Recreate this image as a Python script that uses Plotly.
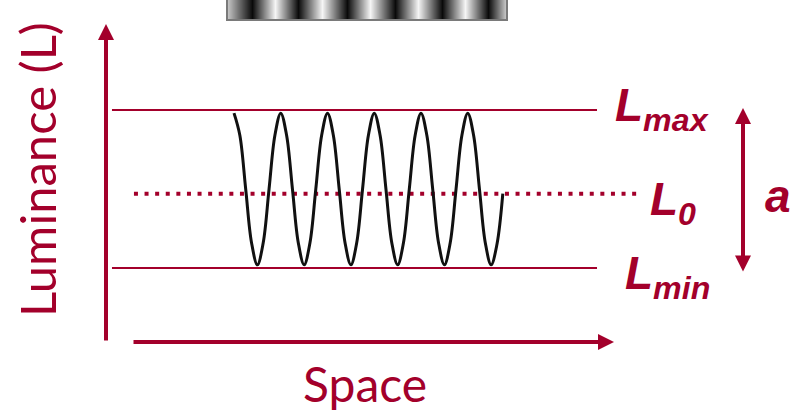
import plotly.graph_objects as go

# --- data (space in grating periods, luminance in arbitrary units) ---
L_MAX = 100
L_MIN = 0
L_ZERO = 47

# profile read at every eighth of a period
wave_space = [0, 0.125, 0.25, 0.375, 0.5, 0.625, 0.75, 0.875,
              1, 1.125, 1.25, 1.375, 1.5, 1.625, 1.75, 1.875,
              2, 2.125, 2.25, 2.375, 2.5, 2.625, 2.75, 2.875,
              3, 3.125, 3.25, 3.375, 3.5, 3.625, 3.75, 3.875,
              4, 4.125, 4.25, 4.375, 4.5, 4.625, 4.75, 4.875,
              5, 5.125, 5.25, 5.375, 5.5, 5.625, 5.75]
wave_lum = [98, 84, 50, 16, 2, 16, 50, 84,
            98, 84, 50, 16, 2, 16, 50, 84,
            98, 84, 50, 16, 2, 16, 50, 84,
            98, 84, 50, 16, 2, 16, 50, 84,
            98, 84, 50, 16, 2, 16, 50, 84,
            98, 84, 50, 16, 2, 15, 47]

# grating strip at the top: stripe centres and their grey level
grating_space = [-0.15, 0.385, 0.877, 1.369, 1.882, 2.417, 2.909,
                 3.444, 3.936, 4.449, 4.941, 5.433, 5.84]
grating_grey = [200, 10, 245, 10, 245, 10, 245, 10, 245, 10, 245, 10, 215]

RED = "#A3002B"
W, H = 798, 413


def px(p):
    return p / W


def py(p):
    return 1 - p / H


fig = go.Figure()

# reference levels
fig.add_trace(go.Scatter(x=[-2.61, 7.765], y=[L_MAX, L_MAX], mode="lines",
                         line=dict(color=RED, width=2), hoverinfo="skip"))
fig.add_trace(go.Scatter(x=[-2.61, 7.765], y=[L_MIN, L_MIN], mode="lines",
                         line=dict(color=RED, width=2), hoverinfo="skip"))
fig.add_trace(go.Scatter(x=[-2.14, 8.685], y=[L_ZERO, L_ZERO], mode="lines",
                         line=dict(color=RED, width=4, dash="4px,6.6px"),
                         hoverinfo="skip"))

# the luminance profile
fig.add_trace(go.Scatter(x=wave_space, y=wave_lum, mode="lines",
                         line=dict(color="#111111", width=3, shape="spline",
                                   smoothing=1)))

# grating image
fig.add_trace(go.Heatmap(x=grating_space, y=[0, 1],
                         z=[grating_grey, grating_grey],
                         zmin=0, zmax=255, zsmooth="best", showscale=False,
                         colorscale=[[0, "black"], [1, "white"]],
                         xaxis="x2", yaxis="y2", hoverinfo="skip"))

annotations = []

# axes arrows
annotations.append(dict(x=px(106), y=py(24), xref="paper", yref="paper",
                        ax=0, ay=318, text="", showarrow=True, arrowhead=2,
                        arrowsize=0.8, arrowwidth=4, arrowcolor=RED))
annotations.append(dict(x=px(614), y=py(342), xref="paper", yref="paper",
                        ax=-482, ay=0, text="", showarrow=True, arrowhead=2,
                        arrowsize=0.8, arrowwidth=4, arrowcolor=RED))
# amplitude arrow
annotations.append(dict(x=px(743), y=py(108), xref="paper", yref="paper",
                        ax=0, ay=165, text="", showarrow=True, arrowhead=2,
                        startarrowhead=2, arrowside="end+start",
                        arrowsize=0.8, startarrowsize=0.8, arrowwidth=4,
                        arrowcolor=RED))

# axis titles
comic = "Comic Sans MS, Lato, sans-serif"
annotations.append(dict(x=px(365), y=py(383), xref="paper", yref="paper",
                        text="Space", showarrow=False, xanchor="center",
                        yanchor="middle",
                        font=dict(family=comic, size=48, color=RED)))
annotations.append(dict(x=px(37), y=py(170), xref="paper", yref="paper",
                        text="Luminance (L)", showarrow=False, textangle=-90,
                        xanchor="center", yanchor="middle",
                        font=dict(family=comic, size=49, color=RED)))

# level labels
bold = dict(family="Liberation Sans, Arial, sans-serif", color=RED,
            weight=700, style="italic", size=46)
labels = [("max", 613, 108), ("0", 648, 202), ("min", 623, 276)]
for sub, lx, ly in labels:
    annotations.append(dict(x=px(lx), y=py(ly), xref="paper", yref="paper",
                            text=f"L<sub>{sub}</sub>",
                            showarrow=False, xanchor="left",
                            yanchor="middle", font=bold))
annotations.append(dict(x=px(778), y=py(196), xref="paper", yref="paper",
                        text="a", showarrow=False, xanchor="center",
                        yanchor="middle", font=bold))

fig.update_layout(
    width=W,
    height=H,
    autosize=False,
    margin=dict(l=0, r=0, t=0, b=0),
    paper_bgcolor="white",
    plot_bgcolor="white",
    showlegend=False,
    xaxis=dict(range=[-234 / 46.75, 564 / 46.75], visible=False,
               fixedrange=True),
    yaxis=dict(range=[(268 - H) / 1.58, 268 / 1.58], visible=False,
               fixedrange=True),
    xaxis2=dict(domain=[px(227), px(507)], range=[-0.15, 5.84],
                anchor="y2", visible=False, fixedrange=True),
    yaxis2=dict(domain=[py(20), 1], range=[0, 1], anchor="x2",
                visible=False, fixedrange=True),
    annotations=annotations,
    shapes=[
        dict(type="rect", xref="x2 domain", yref="y2 domain",
             x0=0, x1=1, y0=0, y1=3, line=dict(color="#7a7a7a", width=2),
             fillcolor="rgba(0,0,0,0)"),
    ],
)

# the page body has an 8px margin by default; drop it so the figure sits at 0,0
fig.write_html("out.html", config={"displayModeBar": False},
               post_script="document.body.style.margin='0';")
